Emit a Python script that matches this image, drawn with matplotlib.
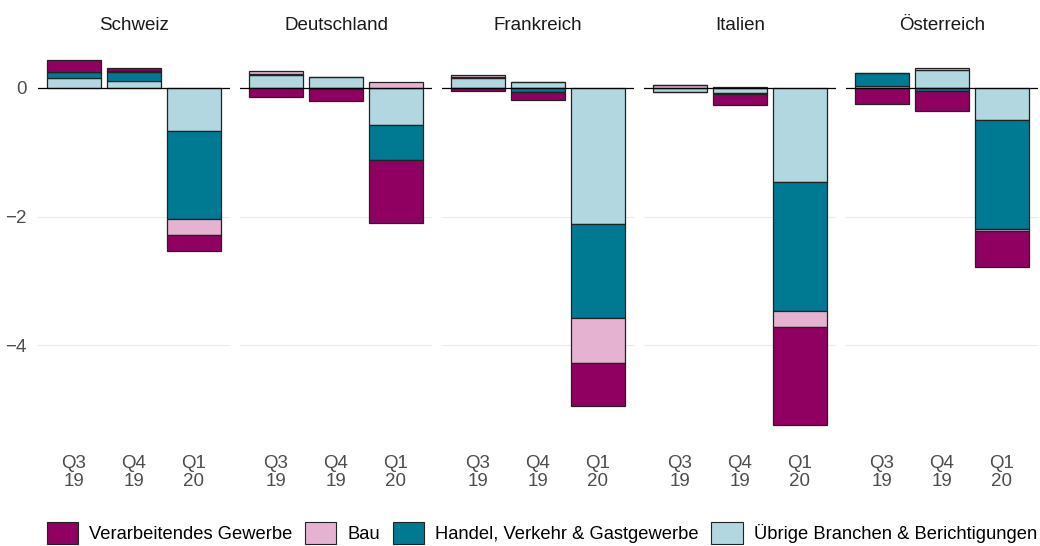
import numpy as np
import matplotlib.pyplot as plt
from matplotlib.patches import Patch

plt.rcParams['font.family'] = ['Liberation Sans', 'DejaVu Sans']

# Data (contributions, percentage points)
countries = ["Schweiz", "Deutschland", "Frankreich", "Italien", "Österreich"]
quarters = ["Q3\n19", "Q4\n19", "Q1\n20"]

verarbeitendes = [[0.18, 0.04, -0.26],
                  [-0.145, -0.20, -0.97],
                  [-0.05, -0.135, -0.67],
                  [0.0, -0.16, -1.53],
                  [-0.25, -0.31, -0.55]]
bau = [[0.01, 0.02, -0.24],
       [0.06, 0.0, 0.09],
       [0.035, 0.0, -0.71],
       [0.04, 0.01, -0.25],
       [0.0, 0.03, -0.04]]
handel = [[0.09, 0.13, -1.37],
          [0.01, -0.01, -0.545],
          [0.02, -0.06, -1.46],
          [-0.005, -0.02, -2.0],
          [0.2, -0.05, -1.69]]
uebrige = [[0.155, 0.115, -0.67],
           [0.2, 0.17, -0.58],
           [0.15, 0.10, -2.11],
           [-0.06, -0.08, -1.46],
           [0.035, 0.28, -0.50]]

sectors = ["Verarbeitendes Gewerbe", "Bau", "Handel, Verkehr & Gastgewerbe",
           "Übrige Branchen & Berichtigungen"]
colors = ["#900060", "#e6b2d2", "#007a92", "#b2d7e0"]
values = [verarbeitendes, bau, handel, uebrige]

fig = plt.figure(figsize=(10.4, 5.46), dpi=100)

left0 = 38 / 1040
pw = 192 / 1040
gap = 10 / 1040
bottom = 1 - 443 / 546
height = (443 - 41) / 546

x = np.arange(len(quarters))
# stack from zero outward: Übrige first, Verarbeitendes last
stack_order = [3, 2, 1, 0]

for ci, country in enumerate(countries):
    ax = fig.add_axes([left0 + ci * (pw + gap), bottom, pw, height])
    pos = np.zeros(len(quarters))
    neg = np.zeros(len(quarters))
    for si in stack_order:
        v = np.array(values[si][ci], dtype=float)
        base = np.where(v >= 0, pos, neg)
        ax.bar(x, v, bottom=base, width=0.9, color=colors[si],
               edgecolor="#222222", linewidth=0.9, zorder=2)
        pos = pos + np.where(v >= 0, v, 0)
        neg = neg + np.where(v < 0, v, 0)
    for g in [-2, -4]:
        ax.axhline(g, color="#ebebeb", lw=0.8, zorder=0)
    ax.axhline(0, color="black", lw=0.9, zorder=3)
    ax.set_xlim(-0.6, 2.6)
    ax.set_ylim(-5.52, 0.73)
    ax.set_xticks(x)
    ax.set_xticklabels(quarters, fontsize=13.5, color="#4d4d4d", linespacing=1.0)
    ax.set_yticks([0, -2, -4])
    if ci == 0:
        ax.set_yticklabels(["0", "\u22122", "\u22124"], fontsize=13.5, color="#4d4d4d")
    else:
        ax.set_yticklabels([])
    ax.tick_params(length=0, pad=9)
    ax.tick_params(axis="y", pad=8)
    for s in ax.spines.values():
        s.set_visible(False)
    ax.set_title(country, fontsize=13.5, color="#1a1a1a", pad=8)

handles = [Patch(facecolor=c, edgecolor="#222222", linewidth=0.8) for c in colors]
fig.legend(handles, sectors, loc="center", bbox_to_anchor=(542 / 1040, 1 - 533 / 546),
           ncol=4, frameon=False, fontsize=13.2, handlelength=1.7, handleheight=1.55,
           handletextpad=0.62, columnspacing=0.68, borderpad=0, borderaxespad=0)

fig.savefig("out.png", dpi=100)
